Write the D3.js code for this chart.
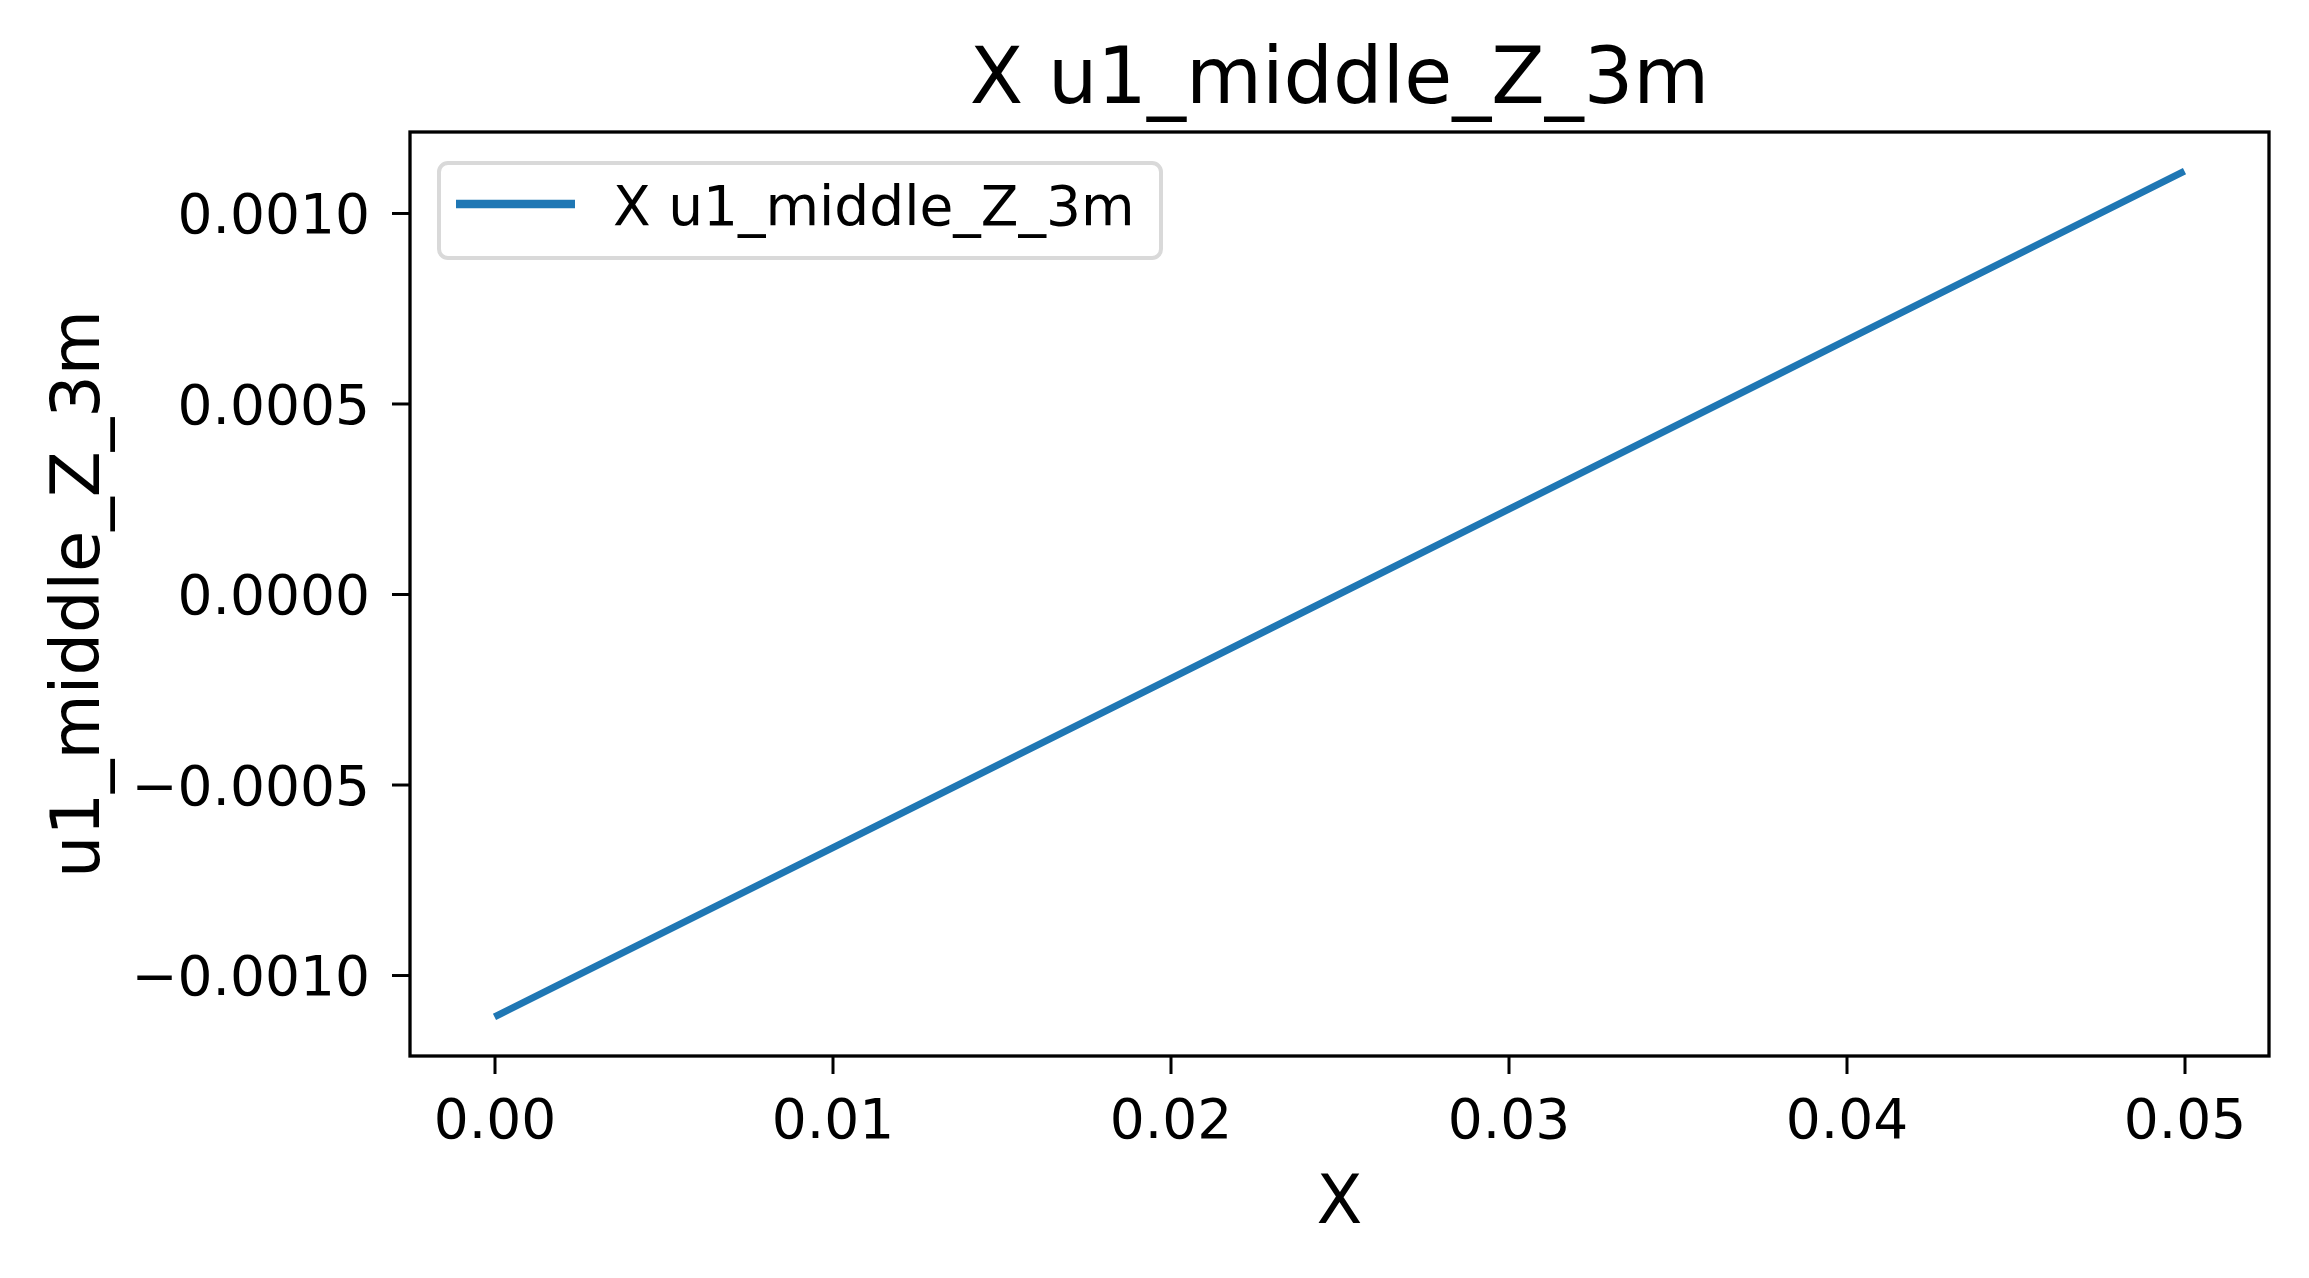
<!DOCTYPE html>
<html>
<head>
<meta charset="utf-8">
<script src="https://cdn.jsdelivr.net/npm/d3@7"></script>
<style>
  body { margin: 0; background: #fff; }
  text { font-family: "DejaVu Sans", sans-serif; fill: #000; }
</style>
</head>
<body>
<div id="chart"></div>
<script>
/*
  line chart of u1_middle_Z_3m along X
*/

// data
var xValues = [0.00, 0.01, 0.02, 0.03, 0.04, 0.05];
var yValues = [-0.00111, -0.000666, -0.000222, 0.000222, 0.000666, 0.00111];
var xTicks = [0.00, 0.01, 0.02, 0.03, 0.04, 0.05];
var yTicks = [-0.0010, -0.0005, 0.0000, 0.0005, 0.0010];
var seriesName = "X u1_middle_Z_3m";
var xLabel = "X";
var yLabel = "u1_middle_Z_3m";

var W = 2309, H = 1278;
// plot area (window.top is reserved, so use other names)
var padL = 410, padR = 2269, padT = 132, padB = 1056;

var svg = d3.select("#chart").append("svg")
  .attr("width", W).attr("height", H);

svg.append("rect").attr("width", W).attr("height", H).attr("fill", "#fff");

var x = d3.scaleLinear().domain([-0.0025, 0.0525]).range([padL, padR]);
var y = d3.scaleLinear().domain([-0.0012125, 0.0012125]).range([padB, padT]);

// axes
var xAxis = svg.append("g")
  .attr("transform", "translate(0," + padB + ")")
  .call(d3.axisBottom(x).tickValues(xTicks).tickFormat(d3.format(".2f"))
    .tickSize(18).tickPadding(25));
var yAxis = svg.append("g")
  .attr("transform", "translate(" + padL + ",0)")
  .call(d3.axisLeft(y).tickValues(yTicks).tickFormat(d3.format(".4f"))
    .tickSize(18).tickPadding(22));

[xAxis, yAxis].forEach(function(a){
  a.select(".domain").remove();
  a.selectAll(".tick line").attr("stroke", "#000").attr("stroke-width", 3);
  a.selectAll(".tick text").attr("font-size", 55).attr("font-family", "DejaVu Sans");
});
yAxis.selectAll(".tick text").attr("dy", "0.36em");

// line
var line = d3.line()
  .x(function(d, i){ return x(xValues[i]); })
  .y(function(d){ return y(d); });

svg.append("path")
  .datum(yValues)
  .attr("d", line)
  .attr("fill", "none")
  .attr("stroke", "#1f77b4")
  .attr("stroke-width", 7);

// frame
svg.append("rect")
  .attr("x", padL).attr("y", padT)
  .attr("width", padR - padL).attr("height", padB - padT)
  .attr("fill", "none").attr("stroke", "#000").attr("stroke-width", 3.3);

// legend
var lg = svg.append("g");
lg.append("rect")
  .attr("x", 439).attr("y", 163)
  .attr("width", 722).attr("height", 95)
  .attr("rx", 9)
  .attr("fill", "#fff").attr("fill-opacity", 0.8)
  .attr("stroke", "#d9d9d9").attr("stroke-width", 4);
lg.append("line")
  .attr("x1", 456).attr("x2", 575)
  .attr("y1", 204).attr("y2", 204)
  .attr("stroke", "#1f77b4").attr("stroke-width", 8.5);
lg.append("text")
  .attr("x", 613).attr("y", 225)
  .attr("font-size", 55)
  .text(seriesName);

// titles
svg.append("text")
  .attr("x", (padL + padR) / 2).attr("y", 103)
  .attr("text-anchor", "middle")
  .attr("font-size", 78)
  .text(seriesName);

svg.append("text")
  .attr("x", (padL + padR) / 2).attr("y", 1223)
  .attr("text-anchor", "middle")
  .attr("font-size", 67)
  .text(xLabel);

svg.append("text")
  .attr("transform", "translate(99," + (padT + padB) / 2 + ") rotate(-90)")
  .attr("text-anchor", "middle")
  .attr("font-size", 67)
  .text(yLabel);
</script>
</body>
</html>
